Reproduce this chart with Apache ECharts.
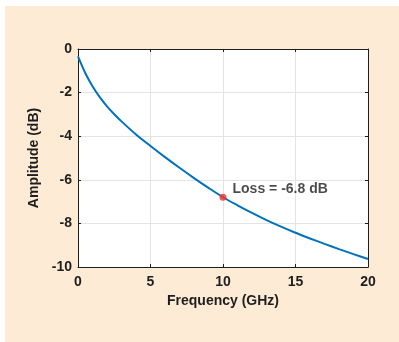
<!DOCTYPE html>
<html>
<head>
<meta charset="utf-8">
<script src="https://cdn.jsdelivr.net/npm/echarts@6/dist/echarts.min.js"></script>
<style>
  html, body { margin: 0; padding: 0; background: #fff; }
  #chart { width: 399px; height: 342px; }
</style>
</head>
<body>
<div id="chart"></div>
<script>
// frequency (GHz) and amplitude (dB)
const freq = [0, 0.5, 1, 1.5, 2, 2.5, 3, 4, 5, 6, 7, 8, 9, 10, 11, 12, 13, 14, 15, 16, 17, 18, 19, 20]
const amp = [-0.34, -1.1, -1.71, -2.21, -2.63, -2.99, -3.32, -3.92, -4.45, -4.96, -5.45, -5.92, -6.37, -6.8,
  -7.17, -7.52, -7.85, -8.15, -8.43, -8.69, -8.94, -9.18, -9.41, -9.63]

// marked point
const markFreq = [10]
const markAmp = [-6.8]
const markLabel = ['Loss = -6.8 dB']

const xTicks = [0, 5, 10, 15, 20]
const yTicks = [-10, -8, -6, -4, -2, 0]

const font = 'Liberation Sans, Arial, Helvetica, sans-serif'
const axisColor = '#1e1e1e'

const chart = echarts.init(document.getElementById('chart'))

const baseX = {
  type: 'value',
  min: xTicks[0],
  max: xTicks[xTicks.length - 1],
  interval: 5,
  axisLine: { show: true, onZero: false, lineStyle: { color: axisColor, width: 1 } },
  axisTick: { show: true, inside: true, length: 3, lineStyle: { color: axisColor } }
}
const baseY = {
  type: 'value',
  min: yTicks[0],
  max: yTicks[yTicks.length - 1],
  interval: 2,
  axisLine: { show: true, onZero: false, lineStyle: { color: axisColor, width: 1 } },
  axisTick: { show: true, inside: true, length: 3, lineStyle: { color: axisColor } }
}

chart.setOption({
  animation: false,
  backgroundColor: '#fff',
  graphic: [{
    type: 'rect',
    z: -10,
    shape: { x: 5, y: 6, width: 394, height: 336 },
    style: { fill: '#FDEBD5' }
  }],
  grid: {
    left: 78, top: 49, right: 31, bottom: 75,
    show: true, backgroundColor: '#fff', borderWidth: 0
  },
  xAxis: [
    Object.assign({}, baseX, {
      position: 'bottom',
      name: 'Frequency (GHz)',
      nameLocation: 'middle',
      nameGap: 25,
      nameTextStyle: { color: axisColor, fontSize: 14, fontWeight: 'bold', fontFamily: font },
      axisLabel: { color: axisColor, fontSize: 14, fontWeight: 'bold', fontFamily: font, margin: 8 },
      splitLine: { show: true, lineStyle: { color: '#e3e3e3', width: 1 } }
    }),
    Object.assign({}, baseX, {
      position: 'top',
      axisLabel: { show: false },
      splitLine: { show: false }
    })
  ],
  yAxis: [
    Object.assign({}, baseY, {
      position: 'left',
      name: 'Amplitude (dB)',
      nameLocation: 'middle',
      nameGap: 31,
      nameTextStyle: { color: axisColor, fontSize: 14, fontWeight: 'bold', fontFamily: font },
      axisLabel: { color: axisColor, fontSize: 14, fontWeight: 'bold', fontFamily: font, margin: 6 },
      splitLine: { show: true, lineStyle: { color: '#e3e3e3', width: 1 } }
    }),
    Object.assign({}, baseY, {
      position: 'right',
      axisLabel: { show: false },
      splitLine: { show: false }
    })
  ],
  series: [
    {
      type: 'line',
      data: freq.map((f, i) => [f, amp[i]]),
      smooth: 0.3,
      showSymbol: false,
      lineStyle: { color: '#0072BD', width: 2 },
      z: 3
    },
    {
      type: 'scatter',
      data: markFreq.map((f, i) => [f, markAmp[i]]),
      symbolSize: 7,
      itemStyle: { color: '#f0302a' },
      label: {
        show: true,
        position: 'right',
        distance: 6,
        offset: [0, -8],
        formatter: p => markLabel[p.dataIndex],
        color: axisColor,
        fontSize: 14,
        fontWeight: 'bold',
        fontFamily: font
      },
      z: 4
    }
  ]
})
</script>
</body>
</html>
